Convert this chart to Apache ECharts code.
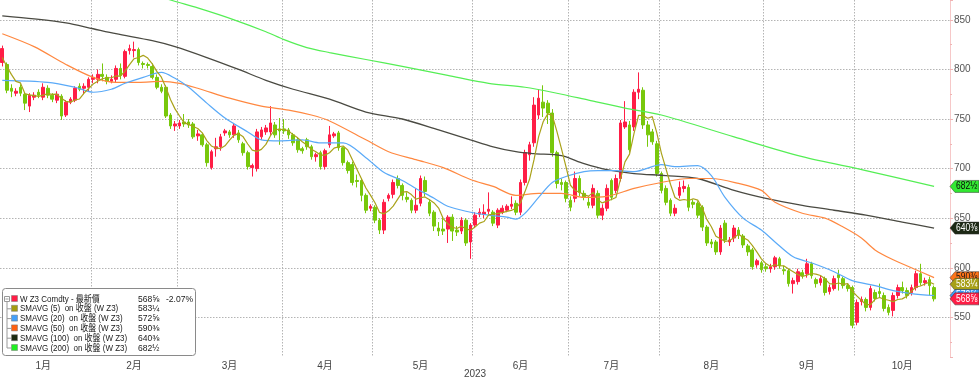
<!DOCTYPE html>
<html><head><meta charset="utf-8">
<script src="https://cdn.jsdelivr.net/npm/echarts@6/dist/echarts.min.js"></script>
<style>html,body{margin:0;padding:0;background:#fff;}#c{width:979px;height:380px;}</style>
</head><body><div id="c"></div>
<script>
// ---- calendar (trading days, last 3 of October are empty slots) ----
const monthDays = {
  1:[3,4,5,6,9,10,11,12,13,17,18,19,20,23,24,25,26,27,30,31],
  2:[1,2,3,6,7,8,9,10,13,14,15,16,17,21,22,23,24,27,28],
  3:[1,2,3,6,7,8,9,10,13,14,15,16,17,20,21,22,23,24,27,28,29,30,31],
  4:[3,4,5,6,7,10,11,12,13,14,17,18,19,20,21,24,25,26,27,28],
  5:[1,2,3,4,5,8,9,10,11,12,15,16,17,18,19,22,23,24,25,26,30,31],
  6:[1,2,5,6,7,8,9,12,13,14,15,16,20,21,22,23,26,27,28,29,30],
  7:[3,5,6,7,10,11,12,13,14,17,18,19,20,21,24,25,26,27,28,31],
  8:[1,2,3,4,7,8,9,10,11,14,15,16,17,18,21,22,23,24,25,28,29,30,31],
  9:[1,5,6,7,8,11,12,13,14,15,18,19,20,21,22,25,26,27,28,29],
  10:[2,3,4,5,6,9,10,11,12,13,16,17,18,19,20,23,24,25,26,27,30]
};
const monthLabels = ['1月','2月','3月','4月','5月','6月','7月','8月','9月','10月'];
const yearLabel = '2023';

// ---- W Z3 daily OHLC ----
const opens = [807,805,781,776,782,775,763,772,777,772,
781,774,769,773,754,767,769,783,781,782,
790,790,795,792,788,790,801,793,819,819,
820,806,805,803,792,782,782,754,743,743,
747,747,745,733,734,724,701,720,722,736,
737,734,736,725,716,701,700,732,737,737,
744,740,740,739,734,729,720,729,722,712,
716,702,724,733,736,721,706,704,688,688,
673,660,661,648,638,670,674,690,683,671,
668,658,665,688,666,656,640,639,639,651,
638,637,648,626,643,654,654,657,656,643,
656,658,662,665,656,686,714,726,754,767,
766,756,716,686,686,668,670,690,675,666,
663,675,653,660,688,678,690,742,744,742,
777,779,744,737,725,695,680,668,655,673,
680,681,666,665,661,641,626,626,616,645,
626,630,638,632,622,618,603,605,601,599,
601,609,598,597,584,586,595,594,604,588,
585,589,576,579,593,589,582,580,545,566,
568,560,575,576,572,560,557,572,580,577,
575,580,594,585,588,580];
const closes = [821,779,778,778,776,766,774,774,774,782,
774,770,775,753,767,770,781,780,783,790,
792,795,793,788,790,801,794,818,821,820,
807,805,804,792,782,778,753,743,745,746,
745,744,732,735,724,706,717,722,732,738,
734,743,729,716,702,703,737,739,741,746,
734,738,738,734,726,719,718,722,712,714,
702,718,734,735,721,706,698,686,687,673,
658,662,648,638,666,673,686,683,673,669,
658,663,690,677,655,642,637,637,651,637,
636,648,625,643,653,656,656,659,645,658,
660,662,664,656,686,716,724,764,771,761,
756,716,685,684,670,661,690,676,671,663,
680,653,660,680,671,690,746,747,719,777,
780,744,734,727,695,678,666,655,660,681,
682,661,664,653,641,625,624,616,640,628,
628,640,633,623,616,601,607,598,599,601,
610,602,597,584,587,596,592,604,592,584,
589,575,580,589,590,582,579,542,565,568,
560,579,569,574,559,555,572,580,577,572,
580,594,585,587,582,568.625];
const lows = [803,776,772,773,773,759,757,769,771,769,
771,767,766,749,752,765,767,778,775,778,
786,786,788,785,786,787,790,791,815,812,
804,801,801,790,780,776,751,740,738,740,
742,741,730,728,722,702,699,712,718,733,
731,731,726,713,699,692,697,729,734,734,
731,724,735,730,723,716,715,719,709,707,
699,699,721,731,718,703,695,683,681,667,
655,657,645,634,634,667,670,680,668,666,
655,655,662,672,652,637,632,633,625,627,
632,634,622,609,640,651,650,654,642,640,
654,656,659,653,653,683,708,722,750,752,
745,712,680,678,666,657,666,672,668,660,
660,650,648,657,668,675,687,740,716,738,
770,740,722,724,692,675,663,652,652,670,
676,657,660,650,637,622,620,613,613,625,
622,626,629,620,612,598,600,595,596,595,
598,599,593,581,574,583,589,590,589,580,
582,572,573,577,577,579,576,539,542,562,
556,557,566,570,556,552,551,569,574,569,
572,577,582,582,572,566];
const highs = [824,807,785,781,785,777,776,777,780,786,
784,776,778,775,769,772,783,786,786,792,
795,800,806,795,794,804,806,820,825,828,
822,808,807,806,795,785,784,756,748,749,
755,750,747,739,736,726,719,731,735,740,
739,746,739,727,718,705,740,742,744,763,
747,751,750,741,736,731,722,731,724,716,
718,720,743,737,738,722,708,707,694,690,
675,664,663,650,669,675,689,693,685,676,
670,680,693,692,669,658,646,652,653,654,
642,651,650,645,656,660,664,676,658,660,
663,664,672,668,689,719,727,772,780,784,
769,760,718,690,688,672,697,693,678,672,
684,678,664,684,690,694,749,768,748,780,
797,782,748,740,728,697,683,670,664,687,
688,684,669,667,663,643,629,628,643,648,
631,643,641,634,624,620,609,607,604,604,
612,611,602,599,590,599,598,609,606,590,
592,591,583,592,598,591,584,582,568,571,
570,582,578,584,575,563,575,583,586,580,
583,597,604,590,591,582];

// ---- moving averages ----
const ma5 = [812,803,795,788,786.4,775.4,774.4,773.6,772.8,774.0,
775.6,774.8,775.0,770.8,767.8,767.0,769.2,770.2,776.2,780.8,
785.2,788.0,790.6,791.6,791.6,793.4,793.2,798.2,804.8,810.8,
812.0,814.2,811.4,805.6,798.0,792.2,781.8,769.6,760.2,753.0,
746.4,744.6,742.4,740.4,736.0,728.2,722.8,720.8,720.2,723.0,
728.6,733.8,735.2,732.0,724.8,718.6,717.4,719.4,724.4,733.2,
739.4,739.6,739.4,738.0,734.0,731.0,727.0,723.8,719.4,717.0,
713.6,713.6,716.0,720.6,722.0,722.8,718.8,709.2,699.6,690.0,
680.4,673.2,665.6,655.8,654.4,657.4,662.2,669.2,676.2,676.8,
673.8,669.2,670.6,671.4,668.6,665.4,660.2,649.6,644.4,640.8,
639.6,641.8,639.4,637.8,641.0,645.0,646.6,653.4,653.8,654.8,
655.6,656.8,657.8,660.0,665.6,676.8,689.2,709.2,732.2,747.2,
755.2,753.6,737.8,720.4,702.2,683.2,678.0,676.2,673.6,672.2,
676.0,668.6,665.4,667.2,668.8,670.8,689.4,706.8,714.6,735.8,
753.8,753.4,750.8,752.4,736.0,715.6,700.0,684.2,670.8,668.0,
668.8,667.8,669.6,668.2,660.2,648.8,641.4,631.8,629.2,626.6,
627.2,630.4,633.8,630.4,628.0,622.6,616.0,609.0,604.2,601.2,
603.0,602.0,601.8,598.8,596.0,593.2,591.2,592.6,594.2,593.6,
592.2,588.8,584.0,583.4,584.6,583.2,584.0,576.4,571.6,567.2,
562.8,562.8,568.2,570.0,568.2,567.2,565.8,568.0,568.6,571.2,
576.2,580.6,581.6,583.6,585.6,583.3];
const ma20Idx = [0,10,16,20,24,27,31,35,38,41,45,49,54,57,61,66,70,75,80,84,88,91,95,98,102,107,111,113,115,118,121,124,128,131,135,139,145,148,153,156,159,163,167,170,174,178,183,187,192,196,200,205];
const ma20Val = [789,787,782,777,780,786,792,797,791,782,766,751,737,729,728,729,726,726,711,696,688,680,670,662,657,653,651,649,655,671,686,692,697,698,698,697,704,702,703,693,671,650,638,626,611,605,596,587,582,577,574,572];
const ma50Idx = [0,7,14,20,25,30,35,39,43,50,57,63,68,72,80,85,91,97,103,108,113,118,123,128,133,139,145,151,156,162,167,170,176,181,185,189,192,196,200,205];
const ma50Val = [836,823,805,792,787,787,788,786,781,771,763,759,754,748,729,717,709,701,689,682,673,675,675,671,672,680,686,690,690,685,678,666,655,650,641,630,618,608,600,590];
const ma100Idx = [0,7,14,20,25,33,38,45,52,58,64,72,80,88,96,103,108,113,117,123,128,133,139,146,153,161,168,176,183,190,198,205];
const ma100Val = [854,851,847,841,836,829,823,812,800,789,780,770,757,750,739,729,722,717,715,713,705,699,695,693,690,678,670,663,658,653,646,640];
const ma200Idx = [30,37,43,51,58,62,67,72,80,88,98,107,115,122,129,137,145,161,176,190,205];
const ma200Val = [881,870,862,850,838,830,822,817,810,803,794,786,782,776,769,761,754,732,712,698,682];

// ---- legend texts ----
const legendNames = ['W Z3 Comdty - 最新價','SMAVG (5)  on 收盤 (W Z3)','SMAVG (20)  on 收盤 (W Z3)','SMAVG (50)  on 收盤 (W Z3)','SMAVG (100)  on 收盤 (W Z3)','SMAVG (200)  on 收盤 (W Z3)'];
const legendValues = ['568⅝','583¼','572⅝','590⅜','640⅜','682½'];
const legendChange = '-2.07%';

const C_UP = '#ff1e46', C_DN = '#78c80c';
const colors = {ma5: '#aaa21a', ma20: '#5aaaf8', ma50: '#ff8840', ma100: '#4a4a42', ma200: '#55ee55'};
const swatch = ['#ff1e46','#a59c10','#45a0f8','#ff6010','#1a2a10','#22ee22'];

// build categories
const cats = []; const monthStart = new Set(); const monthMid = {};
for (let m = 1; m <= 10; m++) {
  const s = cats.length;
  monthDays[m].forEach(d => cats.push('2023-' + String(m).padStart(2,'0') + '-' + String(d).padStart(2,'0')));
  const e = cats.length;
  if (s > 0) monthStart.add(s);
  monthMid[Math.floor((s + e) / 2 - 0.5)] = monthLabels[m-1];
}
const N = cats.length;
const candle = opens.map((o,i) => [o, closes[i], lows[i], highs[i]]);
function sparse(idx, val) { const a = new Array(N).fill(null); idx.forEach((k,j) => a[k] = val[j]); return a; }

const chart = echarts.init(document.getElementById('c'), null, {renderer: 'canvas'});
const FONT = '"Liberation Sans","Noto Sans CJK TC",sans-serif';
const lineS = (name, data, color, w, smooth) => ({
  name, type: 'line', data, showSymbol: false, symbol: 'none', connectNulls: true, smooth: smooth,
  lineStyle: {color, width: w}, itemStyle: {color}, emphasis: {disabled: true}, silent: true, z: 3
});

chart.setOption({
  animation: false,
  grid: {left: 0, right: 29, top: 0, bottom: 23, containLabel: false, outerBoundsMode: 'none'},
  xAxis: {
    type: 'category', data: cats, boundaryGap: true,
    axisLine: {show: false}, axisTick: {show: false},
    axisLabel: {interval: (i) => monthMid[i] !== undefined, formatter: (v, i) => monthMid[i] || '',
      color: '#444', fontSize: 10, margin: 4, fontFamily: FONT},
    splitLine: {show: true, interval: (i) => monthStart.has(i), lineStyle: {color: '#b4b4b4', type: [1.5, 1.5], width: 1}},
    name: yearLabel, nameLocation: 'middle', nameGap: 12, nameMoveOverlap: false,
    nameTextStyle: {color: '#444', fontSize: 10, fontFamily: FONT, verticalAlign: 'top'}
  },
  yAxis: {
    type: 'value', position: 'right', min: 510, max: 870, splitNumber: 7, minInterval: 50, maxInterval: 50,
    axisLine: {show: true, lineStyle: {color: '#f6c8c8', width: 1}},
    axisTick: {show: true, length: 3, lineStyle: {color: '#f0b4b4'}},
    minorTick: {show: true, splitNumber: 2, length: 2, lineStyle: {color: '#f0b4b4'}},
    axisLabel: {color: '#555', fontSize: 10, margin: 4, showMinLabel: false, showMaxLabel: false, fontFamily: FONT},
    splitLine: {show: true, lineStyle: {color: ['rgba(0,0,0,0)','#b4b4b4','#b4b4b4','#b4b4b4','#b4b4b4','#b4b4b4','#b4b4b4','#b4b4b4','rgba(0,0,0,0)'], type: [1.5, 1.5]}}
  },
  series: [
    {type: 'candlestick', name: 'W Z3', data: candle, barWidth: 3.2, silent: true, z: 2,
     itemStyle: {color: C_UP, color0: C_DN, borderColor: C_UP, borderColor0: C_DN, borderWidth: 1}},
    lineS('MA200', sparse(ma200Idx, ma200Val), colors.ma200, 1.2, 0.3),
    lineS('MA100', sparse(ma100Idx, ma100Val), colors.ma100, 1.3, 0.3),
    lineS('MA50', sparse(ma50Idx, ma50Val), colors.ma50, 1.2, 0.3),
    lineS('MA20', sparse(ma20Idx, ma20Val), colors.ma20, 1.2, 0.3),
    lineS('MA5', ma5, colors.ma5, 1.2, false)
  ]
});

// ---- legend box and value tags ----
const els = [];
els.push({type: 'rect', shape: {x: 2.5, y: 288.5, width: 193, height: 67, r: 3}, style: {fill: '#fff', stroke: '#8a8a8a', lineWidth: 1}, z: 50});
const rowY = [299, 308.8, 318.6, 328.4, 338.2, 348];
els.push({type: 'rect', shape: {x: 4.5, y: 296.5, width: 5, height: 5}, style: {fill: '#fff', stroke: '#999', lineWidth: 1}, z: 51});
els.push({type: 'line', shape: {x1: 5.5, y1: 299, x2: 8.5, y2: 299}, style: {stroke: '#999', lineWidth: 1}, z: 51});
els.push({type: 'line', shape: {x1: 7, y1: 302, x2: 7, y2: rowY[5]}, style: {stroke: '#999', lineWidth: 1}, z: 51});
rowY.forEach((y, k) => {
  if (k > 0) els.push({type: 'line', shape: {x1: 7, y1: y, x2: 11, y2: y}, style: {stroke: '#999', lineWidth: 1}, z: 51});
  els.push({type: 'rect', shape: {x: 11.5, y: y - 3.5, width: 6, height: 6}, style: {fill: swatch[k], stroke: '#777', lineWidth: 0.5}, z: 51});
  els.push({type: 'text', x: 20, y: y, scaleX: 0.84, style: {text: legendNames[k], fill: '#1a1a1a', font: '9.5px ' + FONT, textVerticalAlign: 'middle', verticalAlign: 'middle'}, z: 52});
  els.push({type: 'text', x: 138, y: y, scaleX: 0.9, style: {text: legendValues[k], fill: '#1a1a1a', font: '9.5px ' + FONT, textVerticalAlign: 'middle', verticalAlign: 'middle'}, z: 52});
});
els.push({type: 'text', x: 193, y: rowY[0], scaleX: 0.9, style: {text: legendChange, fill: '#1a1a1a', font: '9.5px ' + FONT, textAlign: 'right', align: 'right', textVerticalAlign: 'middle', verticalAlign: 'middle'}, z: 52});

const tagList = [
  {v: ma200Val[ma200Val.length-1], t: legendValues[5], bg: '#33e833', fg: '#0a0a0a'},
  {v: ma100Val[ma100Val.length-1], t: legendValues[4], bg: '#1c2814', fg: '#ffffff'},
  {v: ma50Val[ma50Val.length-1], t: legendValues[3], bg: '#ff7418', fg: '#1a1a1a'},
  {v: ma5[ma5.length-1], t: legendValues[1], bg: '#a8a018', fg: '#ffffff'},
  {v: ma20Val[ma20Val.length-1], t: legendValues[2], bg: '#3d9cf5', fg: '#ffffff'},
  {v: closes[closes.length-1], t: legendValues[0], bg: '#ff1e46', fg: '#ffffff'}
];
const x0 = chart.getWidth() - 29;
tagList.forEach((tg, k) => {
  const y = chart.convertToPixel({yAxisIndex: 0}, tg.v);
  els.push({type: 'polygon', shape: {points: [[x0, y], [x0 + 5, y - 6], [979, y - 6], [979, y + 6], [x0 + 5, y + 6]]},
    style: {fill: tg.bg, stroke: '#333', lineWidth: 0.5}, z: 60 + k});
  els.push({type: 'text', x: x0 + 6, y: y, scaleX: 0.85, style: {text: tg.t, fill: tg.fg, font: '10px ' + FONT, textVerticalAlign: 'middle', verticalAlign: 'middle'}, z: 60 + k});
});
chart.setOption({graphic: {elements: els}});
</script>
</body></html>
